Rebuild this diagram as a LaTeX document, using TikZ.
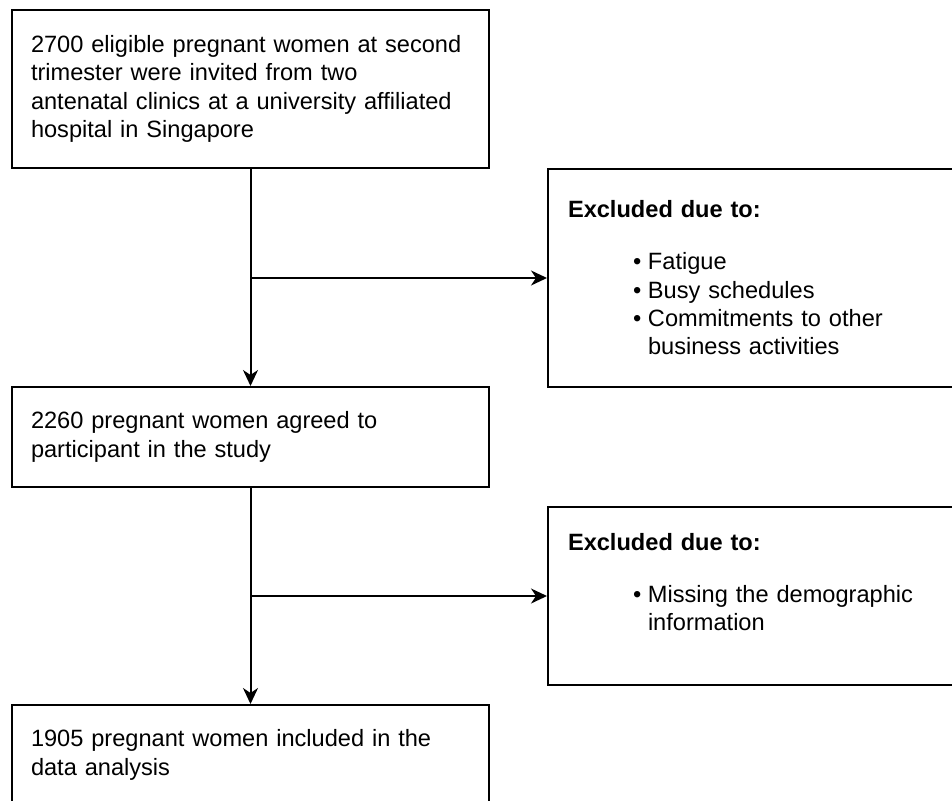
\documentclass[tikz,border=0pt]{standalone}
\usepackage{fontspec}
\setmainfont{Liberation Sans}
\usetikzlibrary{arrows.meta}

\newcommand{\bitem}[1]{\makebox[80pt][l]{\hspace{65pt}\textbullet}#1}

\begin{document}
\begin{tikzpicture}[x=1pt,y=-1pt]
  \tikzset{box/.style = {draw, line width=2pt, anchor=north west, minimum width=477pt, text width=439pt, inner xsep=19pt, inner ysep=0pt, align=left, font=\fontsize{23.6}{28.3}\selectfont}}
  \tikzset{exbox/.style = {box, minimum width=420pt, text width=380pt}}
  \tikzset{edge/.style = {-{Stealth[length=16pt,width=15pt,inset=5pt]}, line width=2pt}}

\useasboundingbox (0,0) rectangle (952,800);
\clip (0,0) rectangle (952,800);

\node[box, minimum height=158pt] (invited) at (11,9) {2700 eligible pregnant women at second\\
  trimester were invited from two\\
  antenatal clinics at a university affiliated\\
  hospital in Singapore};
\node[exbox, minimum height=218pt] (excl1) at (547,168) {\textbf{Excluded due to:}\\[23.7pt]
  \bitem{Fatigue}\\
  \bitem{Busy schedules}\\
  \bitem{Commitments to other}\\
  \hspace{80pt}business activities};
\node[box, minimum height=100pt] (agreed) at (11,386) {2260 pregnant women agreed to\\
  participant in the study};
\node[exbox, minimum height=178pt] (excl2) at (547,506) {\textbf{Excluded due to:}\\[23.7pt]
  \bitem{Missing the demographic}\\
  \hspace{80pt}information\\ \mbox{}};
\node[box, minimum height=100pt] (included) at (11,704) {1905 pregnant women included in the\\
  data analysis};

\coordinate (j1) at (invited.south |- excl1.west);
\coordinate (j2) at (agreed.south |- excl2.west);

  \path[edge] (invited) edge (agreed);
  \path[edge] (j1) edge (excl1.west);
  \path[edge] (agreed) edge (included);
  \path[edge] (j2) edge (excl2.west);

\end{tikzpicture}
\end{document}
